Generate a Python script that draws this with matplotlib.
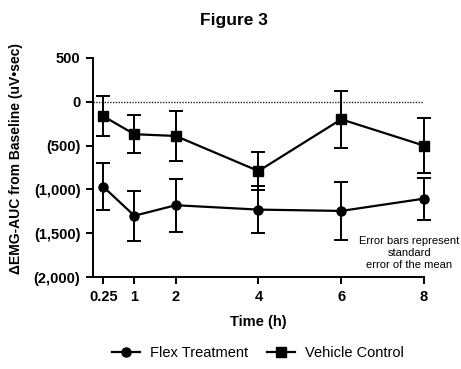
import matplotlib
matplotlib.use("Agg")
import matplotlib.pyplot as plt
from matplotlib.lines import Line2D

plt.rcParams["font.family"] = ["Liberation Sans", "DejaVu Sans"]

time_h = [0.25, 1, 2, 4, 6, 8]
time_labels = ["0.25", "1", "2", "4", "6", "8"]
flex_mean = [-970, -1300, -1180, -1230, -1245, -1105]
flex_sem = [270, 285, 300, 265, 335, 240]
vehicle_mean = [-165, -370, -390, -790, -200, -500]
vehicle_sem = [230, 220, 290, 220, 325, 310]
y_ticks = [500, 0, -500, -1000, -1500, -2000]
y_labels = ["500", "0", "(500)", "(1,000)", "(1,500)", "(2,000)"]

fig = plt.figure(figsize=(4.61, 3.69), dpi=100)
ax = fig.add_axes([0.2017, 0.249, 0.718, 0.594])

ax.plot([0, 8], [0, 0], linestyle=(0, (1, 1)), color="#222222", lw=1.0, zorder=1)

for mean, sem, mk in [(flex_mean, flex_sem, "o"), (vehicle_mean, vehicle_sem, "s")]:
    eb = ax.errorbar(time_h, mean, yerr=sem, color="black", marker=mk, ms=6.5,
                     lw=1.6, elinewidth=1.4, capsize=5, capthick=1.4, zorder=3)
    eb[0].set_clip_on(False)
    for c in eb[1]:
        c.set_clip_on(False)
    for b in eb[2]:
        b.set_clip_on(False)

ax.set_xlim(0, 8)
ax.set_ylim(-2000, 500)
ax.set_xticks(time_h)
ax.set_xticklabels(time_labels, fontweight="bold", fontsize=10.5)
ax.set_yticks(y_ticks)
ax.set_yticklabels(y_labels, fontweight="bold", fontsize=10.5)
ax.spines["top"].set_visible(False)
ax.spines["right"].set_visible(False)
for s in ["left", "bottom"]:
    ax.spines[s].set_linewidth(1.4)
ax.tick_params(direction="out", length=5, width=1.4, pad=4)

ax.set_xlabel("Time (h)", fontweight="bold", fontsize=10.5, labelpad=8)
ax.set_ylabel("ΔEMG-AUC from Baseline (uV•sec)", fontweight="bold", fontsize=10)
ax.yaxis.set_label_coords(-0.21, 0.543)

ax.text(7.64, -1530, "Error bars represent\nstandard\nerror of the mean", ha="center", va="top",
        fontsize=8, linespacing=1.25)

fig.text(0.508, 0.945, "Figure 3", ha="center", va="center", fontweight="bold", fontsize=12.5)

handles = [Line2D([], [], color="black", marker="o", ms=6.5, lw=1.6),
           Line2D([], [], color="black", marker="s", ms=6.5, lw=1.6)]
labels = ["Flex Treatment", "Vehicle Control"]
fig.legend(handles, labels, loc="center", bbox_to_anchor=(0.56, 0.043), ncol=2, frameon=False,
           fontsize=10.5, handlelength=1.9, handletextpad=0.7, columnspacing=1.3)

fig.savefig("out.png", dpi=100)
